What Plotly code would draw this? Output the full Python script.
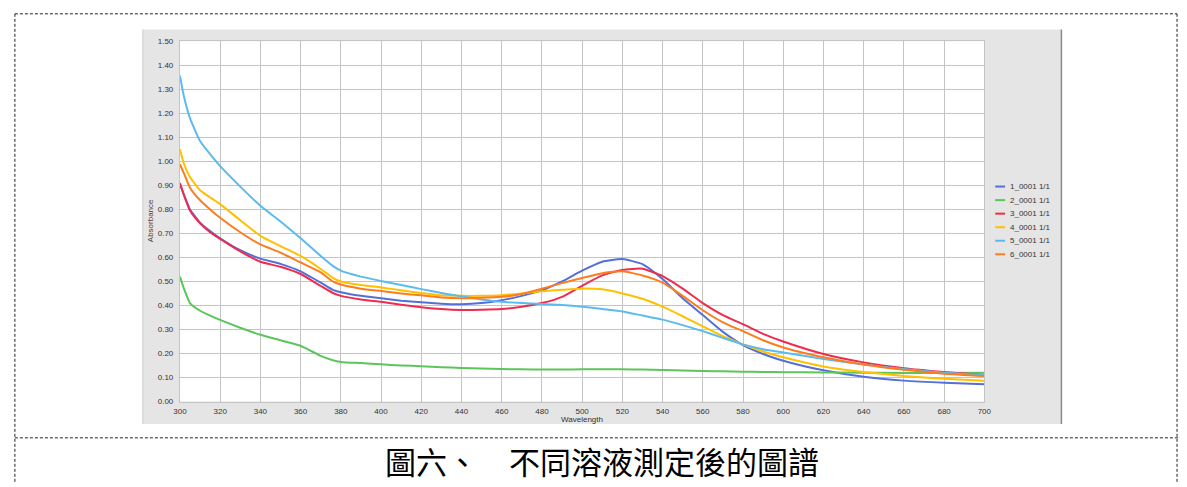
import plotly.graph_objects as go

W, H = 1187, 487

wavelength = [300, 302, 305, 310, 315, 320, 330, 340, 350, 360, 370, 376, 380, 390, 400, 410, 420, 430,
              440, 450, 460, 470, 480, 490, 500, 510, 520, 530, 540, 550, 560, 570, 580, 590, 600,
              620, 640, 660, 680, 700]

s1 = [0.905, 0.86, 0.80, 0.745, 0.71, 0.68, 0.63, 0.595, 0.573, 0.542, 0.495, 0.465, 0.455, 0.44, 0.43,
      0.42, 0.413, 0.407, 0.405, 0.41, 0.422, 0.44, 0.463, 0.50, 0.545, 0.582, 0.593, 0.572, 0.51, 0.43,
      0.36, 0.29, 0.235, 0.198, 0.17, 0.13, 0.103, 0.087, 0.078, 0.072]
s2 = [0.52, 0.47, 0.41, 0.378, 0.358, 0.34, 0.307, 0.278, 0.255, 0.232, 0.19, 0.172, 0.165, 0.16, 0.155,
      0.15, 0.147, 0.143, 0.14, 0.137, 0.135, 0.134, 0.133, 0.133, 0.134, 0.134, 0.134, 0.133, 0.131, 0.129,
      0.127, 0.126, 0.124, 0.123, 0.122, 0.121, 0.12, 0.119, 0.119, 0.12]
s3 = [0.91, 0.86, 0.795, 0.742, 0.705, 0.677, 0.625, 0.582, 0.561, 0.531, 0.481, 0.452, 0.44, 0.425, 0.415,
      0.403, 0.393, 0.385, 0.381, 0.382, 0.385, 0.395, 0.41, 0.436, 0.482, 0.525, 0.548, 0.553, 0.522, 0.47,
      0.41, 0.36, 0.322, 0.282, 0.25, 0.198, 0.163, 0.139, 0.123, 0.11]
s4 = [1.05, 0.99, 0.935, 0.88, 0.85, 0.822, 0.755, 0.69, 0.647, 0.606, 0.552, 0.515, 0.50, 0.485, 0.475,
      0.463, 0.452, 0.442, 0.44, 0.44, 0.443, 0.45, 0.459, 0.465, 0.47, 0.467, 0.45, 0.428, 0.395, 0.355,
      0.313, 0.272, 0.238, 0.208, 0.184, 0.146, 0.123, 0.106, 0.095, 0.086]
s5 = [1.357, 1.27, 1.18, 1.085, 1.03, 0.98, 0.895, 0.815, 0.75, 0.68, 0.606, 0.565, 0.545, 0.52, 0.502,
      0.485, 0.468, 0.452, 0.438, 0.425, 0.415, 0.41, 0.406, 0.402, 0.395, 0.385, 0.375, 0.358, 0.341, 0.318,
      0.293, 0.265, 0.238, 0.218, 0.204, 0.177, 0.154, 0.135, 0.12, 0.11]
s6 = [0.988, 0.95, 0.89, 0.838, 0.80, 0.765, 0.705, 0.654, 0.62, 0.579, 0.538, 0.50, 0.487, 0.47, 0.46,
      0.45, 0.442, 0.433, 0.43, 0.432, 0.436, 0.448, 0.47, 0.493, 0.514, 0.534, 0.542, 0.525, 0.495, 0.44,
      0.38, 0.33, 0.293, 0.255, 0.225, 0.184, 0.154, 0.132, 0.116, 0.106]

series_names = ["1_0001 1/1", "2_0001 1/1", "3_0001 1/1", "4_0001 1/1", "5_0001 1/1", "6_0001 1/1"]
series_values = [s1, s2, s3, s4, s5, s6]
colors = ["#5470d8", "#5cc55c", "#ee2c4c", "#ffc000", "#5bbbee", "#fd7d1e"]

x_ticks = list(range(300, 701, 20))
y_ticks = [i / 10 for i in range(0, 16)]

caption = "圖六、　不同溶液測定後的圖譜"

def px_x(p):
    return p / W

def px_y(p):
    return 1 - p / H

fig = go.Figure()
for name, vals, c in zip(series_names, series_values, colors):
    fig.add_trace(go.Scatter(x=wavelength, y=vals, mode="lines", name=name,
                             line=dict(color=c, width=2, shape="spline", smoothing=0.5),
                             showlegend=False))

tick_font = dict(family="Liberation Sans, Arial, sans-serif", size=8, color="#333333")

fig.update_layout(
    width=W, height=H,
    margin=dict(l=0, r=0, t=0, b=0),
    paper_bgcolor="white",
    plot_bgcolor="white",
    xaxis=dict(domain=[px_x(175), px_x(989)], range=[300, 700], tickvals=x_ticks,
               ticktext=[str(v) for v in x_ticks], showgrid=True, gridcolor="#c4c4c4", gridwidth=1,
               zeroline=False, showline=True, linecolor="#c4c4c4", mirror=True, ticks="",
               ticklabelstandoff=2, tickfont=tick_font),
    yaxis=dict(domain=[px_y(405), px_y(38)], range=[0, 1.5], tickvals=y_ticks,
               ticktext=[f"{v:.2f}" for v in y_ticks], showgrid=True, gridcolor="#c4c4c4", gridwidth=1,
               zeroline=False, showline=True, linecolor="#c4c4c4", mirror=True, ticks="",
               ticklabelstandoff=4, tickfont=tick_font),
)

shapes = []
# grey chart panel
shapes.append(dict(type="rect", xref="paper", yref="paper", layer="below",
                   x0=px_x(137), x1=px_x(1067), y0=px_y(428), y1=px_y(26),
                   fillcolor="#e5e5e5", line=dict(width=0)))
# white plotting area over the panel
shapes.append(dict(type="rect", xref="paper", yref="paper", layer="below",
                   x0=px_x(175), x1=px_x(989), y0=px_y(405), y1=px_y(38),
                   fillcolor="white", line=dict(width=0)))
shapes.append(dict(type="line", xref="paper", yref="paper",
                   x0=px_x(1067), x1=px_x(1067), y0=px_y(428), y1=px_y(26),
                   line=dict(color="#8a8a8a", width=1.5)))
shapes.append(dict(type="line", xref="paper", yref="paper",
                   x0=px_x(137.5), x1=px_x(137.5), y0=px_y(428), y1=px_y(26),
                   line=dict(color="#cfcfcf", width=1)))
# dashed page frame
dash = dict(color="#222222", width=1, dash="3px,2px")
shapes.append(dict(type="line", xref="paper", yref="paper", x0=px_x(8), x1=px_x(1184),
                   y0=px_y(10), y1=px_y(10), line=dash))
shapes.append(dict(type="line", xref="paper", yref="paper", x0=px_x(8), x1=px_x(8),
                   y0=px_y(10), y1=px_y(487), line=dash))
shapes.append(dict(type="line", xref="paper", yref="paper", x0=px_x(1184), x1=px_x(1184),
                   y0=px_y(10), y1=px_y(487), line=dash))
shapes.append(dict(type="line", xref="paper", yref="paper", x0=px_x(8), x1=px_x(1187),
                   y0=px_y(442), y1=px_y(442), line=dash))

annotations = []
# legend drawn from the series names and colours
leg_top = 186
leg_step = 13.8
for i, (name, c) in enumerate(zip(series_names, colors)):
    yy = leg_top + i * leg_step
    shapes.append(dict(type="line", xref="paper", yref="paper",
                       x0=px_x(1000), x1=px_x(1010), y0=px_y(yy), y1=px_y(yy),
                       line=dict(color=c, width=2)))
    annotations.append(dict(xref="paper", yref="paper", x=px_x(1013), y=px_y(yy), text=name,
                            showarrow=False, xanchor="left", yanchor="middle",
                            font=tick_font))

annotations.append(dict(xref="paper", yref="paper", x=px_x(582), y=px_y(423), text="Wavelength",
                        showarrow=False, xanchor="center", yanchor="middle", font=tick_font))
annotations.append(dict(xref="paper", yref="paper", x=px_x(146), y=px_y(221), text="Absorbance",
                        showarrow=False, xanchor="center", yanchor="middle", textangle=-90,
                        font=dict(family="Liberation Sans, Arial, sans-serif", size=8, color="#5a3a3a")))
annotations.append(dict(xref="paper", yref="paper", x=px_x(602), y=px_y(465), text=caption,
                        showarrow=False, xanchor="center", yanchor="middle",
                        font=dict(family="Noto Sans CJK TC", size=31, color="#000000")))

fig.update_layout(shapes=shapes, annotations=annotations)
fig.write_html("out.html", config={"displayModeBar": False},
               post_script="document.body.style.margin='0';document.body.style.overflow='hidden';")
